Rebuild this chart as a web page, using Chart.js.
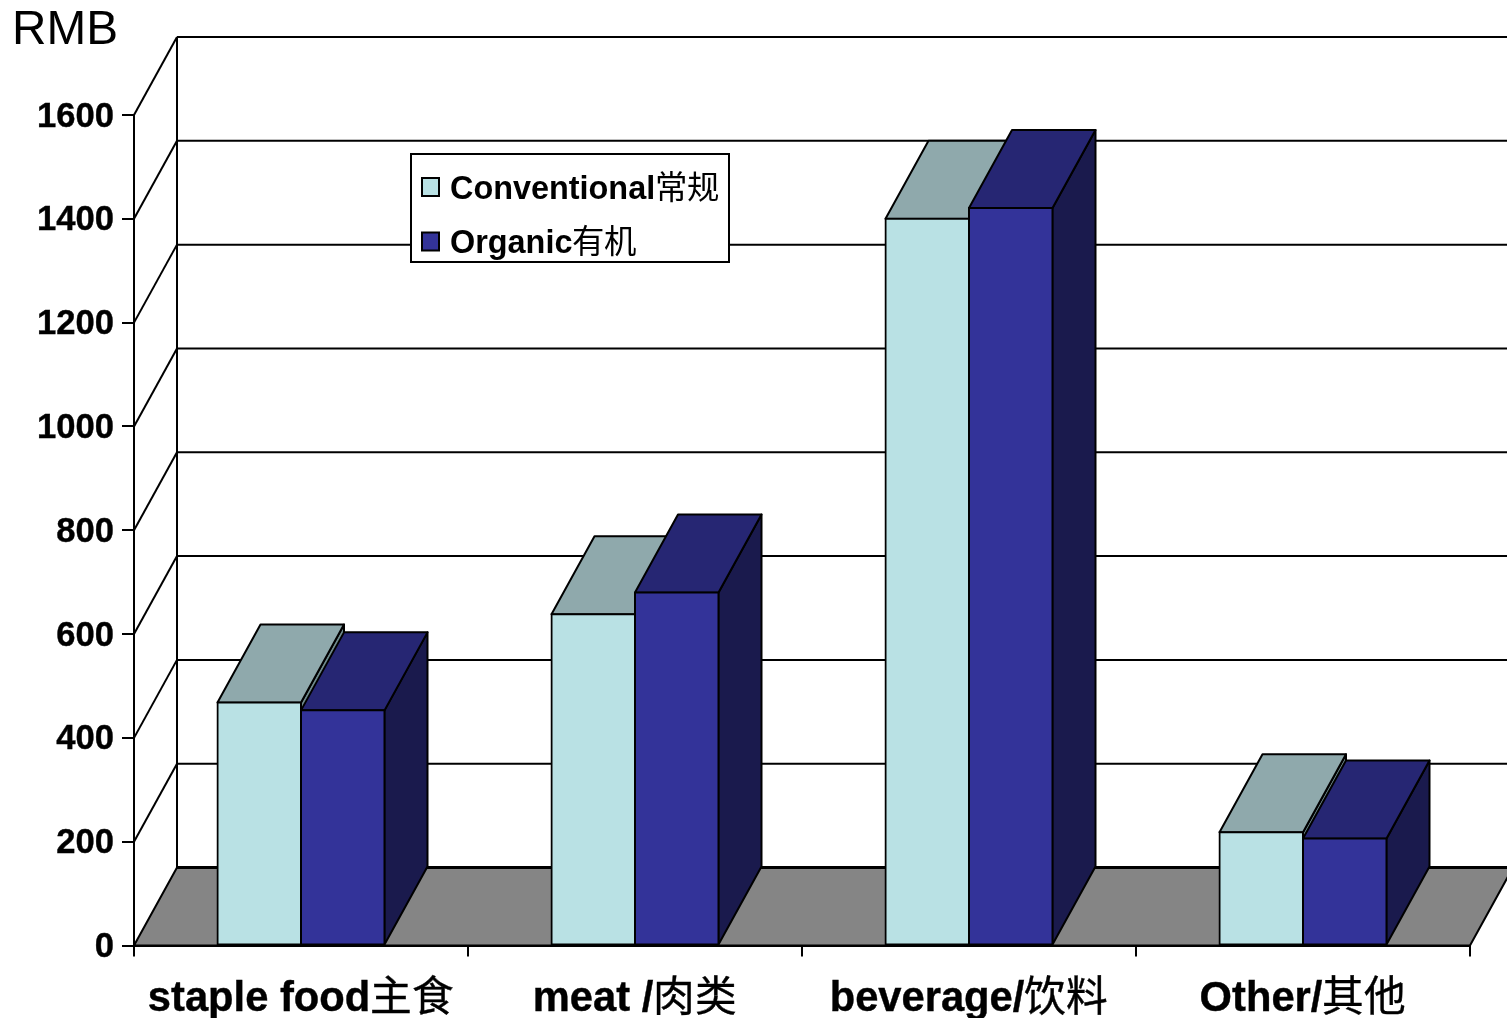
<!DOCTYPE html>
<html>
<head>
<meta charset="utf-8">
<style>
  /* Regular-weight CJK glyphs beside bold Latin text */
  @font-face {
    font-family: "CJKText";
    font-weight: 100 900;
    src: local("Noto Sans CJK SC Regular"), local("Noto Sans CJK SC");
    unicode-range: U+2E80-9FFF, U+F900-FAFF;
  }
  html, body { margin: 0; padding: 0; background: #fff; }
  canvas { display: block; }
</style>
<script src="https://cdn.jsdelivr.net/npm/chart.js@4"></script>
</head>
<body>
<canvas id="chart" width="1507" height="1018"></canvas>
<script>
const categories = ['staple food主食', 'meat /肉类', 'beverage/饮料', 'Other/其他'];
const conventional = [468, 638, 1400, 218];
const organic = [453, 680, 1421, 206];
const seriesNames = ['Conventional常规', 'Organic有机'];
const axisUnit = 'RMB';

const FONT = '"CJKText", "Liberation Sans", Arial, sans-serif';
const DEPTH_X = 43;
const DEPTH_Y = -78;
const INK = '#000000';
const FRONT = ['#B9E1E4', '#333399'];
const TOP = ['#8FA9AC', '#262673'];
const SIDE = ['#6F8A8C', '#1A1A4D'];
const FLOOR = '#858585';

function polygon(ctx, pts, fill) {
  ctx.beginPath();
  pts.forEach((p, i) => (i ? ctx.lineTo(p[0], p[1]) : ctx.moveTo(p[0], p[1])));
  ctx.closePath();
  if (fill) { ctx.fillStyle = fill; ctx.fill(); }
  ctx.stroke();
}

function line(ctx, x1, y1, x2, y2) {
  ctx.beginPath();
  ctx.moveTo(x1, y1);
  ctx.lineTo(x2, y2);
  ctx.stroke();
}

// White page, walls and floor of the 3D box behind the axes
const wallsPlugin = {
  id: 'walls',
  beforeDraw(chart) {
    const { ctx, chartArea: a, width, height, scales: { y } } = chart;
    // value labels sit slightly below their tick marks
    y.getLabelItems().forEach(item => {
      if (!item.nudged) {
        item.options.translation[1] += 2;
        item.nudged = true;
      }
    });
    ctx.save();
    ctx.fillStyle = '#fff';
    ctx.fillRect(0, 0, width, height);
    ctx.strokeStyle = INK;
    ctx.lineWidth = 2;
    const base = y.getPixelForValue(0);
    const backX = a.left + DEPTH_X;
    polygon(ctx, [[a.left, base], [backX, base + DEPTH_Y],
      [a.right + DEPTH_X, base + DEPTH_Y], [a.right, base]], FLOOR);
    y.ticks.forEach(t => {
      const py = y.getPixelForValue(t.value);
      if (t.value > 0) line(ctx, a.left, py, backX, py + DEPTH_Y);
      line(ctx, backX, py + DEPTH_Y, width, py + DEPTH_Y);
    });
    line(ctx, backX, a.top + DEPTH_Y, backX, base + DEPTH_Y);
    ctx.lineWidth = 3;
    line(ctx, backX, base + DEPTH_Y, width, base + DEPTH_Y);
    ctx.restore();
  }
};

// Top and side faces of each bar; the front faces come from the bar elements
const depthPlugin = {
  id: 'barDepth',
  beforeDatasetsDraw(chart) {
    const { ctx } = chart;
    ctx.save();
    ctx.strokeStyle = INK;
    ctx.lineWidth = 2;
    ctx.lineJoin = 'round';
    chart.data.datasets.forEach((ds, i) => {
      chart.getDatasetMeta(i).data.forEach(bar => {
        const l = bar.x - bar.width / 2, r = bar.x + bar.width / 2;
        const t = bar.y, b = bar.base;
        polygon(ctx, [[r, b], [r + DEPTH_X, b + DEPTH_Y], [r + DEPTH_X, t + DEPTH_Y], [r, t]], SIDE[i]);
        polygon(ctx, [[l, t], [l + DEPTH_X, t + DEPTH_Y], [r + DEPTH_X, t + DEPTH_Y], [r, t]], TOP[i]);
      });
    });
    ctx.restore();
  }
};

// Unit caption and the boxed key over the plot
const annotationPlugin = {
  id: 'annotations',
  afterDraw(chart) {
    const { ctx } = chart;
    ctx.save();
    ctx.fillStyle = INK;
    ctx.textBaseline = 'middle';
    ctx.textAlign = 'left';
    ctx.font = '47.7px ' + FONT;
    ctx.fillText(axisUnit, 12, 31);

    ctx.strokeStyle = INK;
    ctx.lineWidth = 2;
    ctx.fillStyle = '#fff';
    ctx.fillRect(411, 154, 318, 108);
    ctx.strokeRect(411, 154, 318, 108);
    ctx.font = 'bold 32.4px ' + FONT;
    seriesNames.forEach((name, i) => {
      const cy = 187 + i * 54.5;
      ctx.fillStyle = FRONT[i];
      ctx.fillRect(422, cy - 9, 17, 18);
      ctx.strokeRect(422, cy - 9, 17, 18);
      ctx.fillStyle = INK;
      ctx.fillText(name, 450, cy + 3);
    });
    ctx.restore();
  }
};

function draw() {
  new Chart(document.getElementById('chart'), {
    type: 'bar',
    data: {
      labels: categories,
      datasets: [conventional, organic].map((values, i) => ({
        label: seriesNames[i],
        data: values,
        backgroundColor: FRONT[i],
        borderColor: INK,
        borderWidth: 2,
        borderSkipped: false,
        inflateAmount: 1,
        barPercentage: 1,
        categoryPercentage: 0.5
      }))
    },
    plugins: [wallsPlugin, depthPlugin, annotationPlugin],
    options: {
      responsive: false,
      animation: false,
      layout: { padding: { top: 115, right: 37, left: 0, bottom: 0 } },
      plugins: { legend: { display: false }, title: { display: false }, tooltip: { enabled: false } },
      scales: {
        x: {
          grid: { offset: true, drawOnChartArea: false, drawTicks: true, tickLength: 11, color: INK, lineWidth: 2 },
          border: { display: true, color: INK, width: 2 },
          ticks: { color: INK, padding: 18, maxRotation: 0, textStrokeColor: INK, textStrokeWidth: 0.4,
            font: { family: FONT, size: 41.7, weight: 'bold' } },
          afterFit(scale) { scale.height = 72.5; }
        },
        y: {
          min: 0,
          max: 1600,
          grid: { drawOnChartArea: false, drawTicks: true, tickLength: 12, color: INK, lineWidth: 2 },
          border: { display: true, color: INK, width: 2 },
          ticks: { stepSize: 200, color: INK, padding: 8, textStrokeColor: INK, textStrokeWidth: 0.4,
            callback: value => String(value),
            font: { family: FONT, size: 34.6, weight: 'bold' } },
          afterFit(scale) { scale.width = 134; }
        }
      }
    }
  });
}

const loads = [
  document.fonts.load('bold 41px "CJKText"', '主食'),
  document.fonts.load('47px "CJKText"', '主食')
];
Promise.all(loads).then(draw, draw);
</script>
</body>
</html>
